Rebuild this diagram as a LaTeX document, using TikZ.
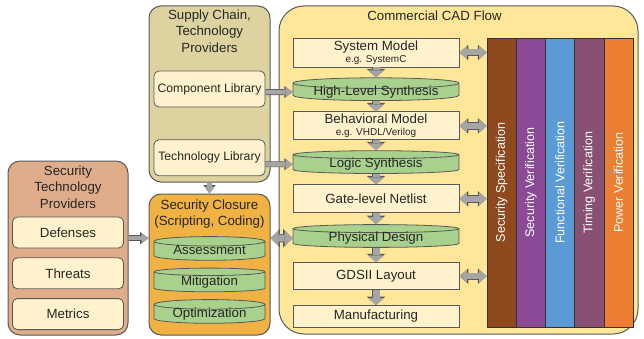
\documentclass[tikz,border=0pt]{standalone}
\usepackage{fontspec}
\setmainfont{Liberation Sans}
\usetikzlibrary{positioning,shapes.geometric,arrows.meta}

\definecolor{cadyellow}{HTML}{FFE699}
\definecolor{supplytan}{HTML}{DDD3A1}
\definecolor{providertan}{HTML}{E0AD8A}
\definecolor{closureorange}{HTML}{EFB243}
\definecolor{cream}{HTML}{FFF2CC}
\definecolor{synthgreen}{HTML}{A9D18E}
\definecolor{edgegray}{HTML}{595959}
\definecolor{arrowfill}{HTML}{A5A5A5}
\definecolor{specbrown}{HTML}{8E4A1E}
\definecolor{secpurple}{HTML}{8A4A96}
\definecolor{funcblue}{HTML}{5B9BD5}
\definecolor{timingmauve}{HTML}{885073}
\definecolor{powerorange}{HTML}{ED7D31}

\begin{document}
\begin{tikzpicture}[x=1pt, y=-1pt,
    every node/.style={text=black!85, font=\fontsize{13.3}{16}\selectfont},
    group/.style={draw=edgegray, line width=1pt, rounded corners=12pt, inner sep=0pt},
    grouptitle/.style={align=center, inner sep=0pt, font=\fontsize{13.3}{16.5}\selectfont},
    item/.style={draw=edgegray, line width=0.8pt, fill=cream, rounded corners=5pt, minimum width=111pt, inner sep=0pt},
    flowbox/.style={draw=edgegray, line width=0.8pt, fill=cream, minimum width=166pt, inner sep=0pt, align=center},
    synth/.style={cylinder, shape border rotate=90, draw=edgegray, line width=0.8pt, fill=synthgreen,
      inner xsep=0pt, inner ysep=-3.5pt, text height=9pt, text depth=2.5pt},
    bar/.style={draw=black!80, line width=0.6pt, rotate=90, minimum width=289pt, minimum height=29.2pt, inner sep=0pt, text=white, font=\fontsize{12.5}{15}\selectfont},
    downarrow/.style={draw=arrowfill, line width=7pt, -{Triangle[width=16pt, length=7pt, line width=0pt]},
      preaction={draw=edgegray, line width=8.6pt, -{Triangle[width=18.5pt, length=8.5pt, line width=0pt]}}},
    sidearrow/.style={draw=arrowfill, line width=4.5pt, -{Triangle[width=10pt, length=7pt, line width=0pt]},
      preaction={draw=edgegray, line width=5.9pt, -{Triangle[width=12.2pt, length=8.3pt, line width=0pt]}}},
    biarrow/.style={draw=arrowfill, line width=6pt, {Triangle[width=13pt, length=7.5pt, line width=0pt]}-{Triangle[width=13pt, length=7.5pt, line width=0pt]},
      preaction={draw=edgegray, line width=7.4pt, {Triangle[width=15.4pt, length=8.9pt, line width=0pt]}-{Triangle[width=15.4pt, length=8.9pt, line width=0pt]}}},
    bigbiarrow/.style={draw=arrowfill, line width=7pt, {Triangle[width=16pt, length=8pt, line width=0pt]}-{Triangle[width=16pt, length=8pt, line width=0pt]},
      preaction={draw=edgegray, line width=8.4pt, {Triangle[width=18.4pt, length=9.4pt, line width=0pt]}-{Triangle[width=18.4pt, length=9.4pt, line width=0pt]}}},
  ]
  \useasboundingbox (0,0) rectangle (644,339);

  % containers
  \node[group, fill=cadyellow, rounded corners=25pt, minimum width=359pt, minimum height=328pt] (cad) at (458.5,170) {};
  \node[grouptitle, below=5pt of cad.north, xshift=-24pt] (cadtitle) {Commercial CAD Flow};
  \node[group, fill=supplytan, minimum width=121pt, minimum height=176pt] (supply) at (209.5,94) {};
  \node[grouptitle, below=4pt of supply.north] (supplytitle) {Supply Chain,\\Technology\\Providers};
  \node[group, fill=providertan, minimum width=120pt, minimum height=174pt] (stp) at (68,248) {};
  \node[grouptitle, below=5pt of stp.north] (stptitle) {Security\\Technology\\Providers};
  \node[group, fill=closureorange, minimum width=121pt, minimum height=141pt] (closure) at (209.5,264.5) {};
  \node[grouptitle, below=6pt of closure.north] (closuretitle) {Security Closure\\(Scripting, Coding)};

  % providers
  \node[item, minimum height=36pt, font=\fontsize{12.2}{14}\selectfont] (complib) at (209.5,89) {Component Library};
  \node[item, minimum height=36pt, font=\fontsize{12.2}{14}\selectfont, below=32pt of complib] (techlib) {Technology Library};
  \node[item, minimum height=31pt] (defenses) at (68,232.5) {Defenses};
  \node[item, minimum height=31pt, below=9pt of defenses] (threats) {Threats};
  \node[item, minimum height=31pt, below=9pt of threats] (metrics) {Metrics};

  % security closure steps
  \node[synth, aspect=0.13, minimum width=111pt, minimum height=23.7pt] (assess) at (209.5,251) {Assessment};
  \node[synth, aspect=0.13, minimum width=111pt, minimum height=23.7pt, below=7pt of assess] (mitig) {Mitigation};
  \node[synth, aspect=0.13, minimum width=111pt, minimum height=23.7pt, below=7pt of mitig] (optim) {Optimization};

  % design flow
  \node[flowbox, minimum height=29pt] (sm) at (376,52.5) {System Model\\[-4pt]{\fontsize{10}{12}\selectfont e.g. SystemC}};
  \node[synth, aspect=0.085, minimum width=166pt, minimum height=22.8pt, below=10pt of sm] (hls) {High-Level Synthesis};
  \node[flowbox, minimum height=28pt, below=10.5pt of hls] (bm) {Behavioral Model\\[-4pt]{\fontsize{10}{12}\selectfont e.g. VHDL/Verilog}};
  \node[synth, aspect=0.085, minimum width=166pt, minimum height=22.8pt, below=10pt of bm] (ls) {Logic Synthesis};
  \node[flowbox, minimum height=28pt, below=10.5pt of ls] (gl) {Gate-level Netlist};
  \node[synth, aspect=0.085, minimum width=166pt, minimum height=22.8pt, below=11pt of gl] (pd) {Physical Design};
  \node[flowbox, minimum height=27pt, below=14.5pt of pd] (gds) {GDSII Layout};
  \node[flowbox, minimum height=22pt, below=15pt of gds] (man) {Manufacturing};

  % verification bars
  \node[bar, fill=specbrown] (spec) at (501.6,182.5) {Security Specification};
  \node[bar, fill=secpurple] (secver) at (530.8,182.5) {Security Verification};
  \node[bar, fill=funcblue] (funcver) at (560,182.5) {Functional Verification};
  \node[bar, fill=timingmauve] (timver) at (589.2,182.5) {Timing Verification};
  \node[bar, fill=powerorange] (powver) at (618.4,182.5) {Power Verification};

  % flow arrows
  \draw[downarrow] (sm) -- (hls);
  \draw[downarrow] (hls) -- (bm);
  \draw[downarrow] (bm) -- (ls);
  \draw[downarrow] (ls) -- (gl);
  \draw[downarrow] (gl) -- (pd);
  \draw[downarrow] (pd) -- (gds);
  \draw[downarrow] (gds) -- (man);

  \draw[biarrow] (sm.east) -- (sm.east -| spec.north);
  \draw[biarrow] (bm.east) -- (bm.east -| spec.north);
  \draw[biarrow] (gl.east) -- (gl.east -| spec.north);
  \draw[biarrow] (gds.east) -- (gds.east -| spec.north);

  \draw[sidearrow] (complib.east |- hls) -- (hls.west);
  \draw[sidearrow] (techlib.east |- ls) -- (ls.west);
  \draw[sidearrow] (supply) -- (closure);
  \draw[sidearrow] (stp.east |- pd) -- (closure.west |- pd);
  \draw[bigbiarrow] (closure.east |- pd) -- (pd.west);
\end{tikzpicture}
\end{document}
